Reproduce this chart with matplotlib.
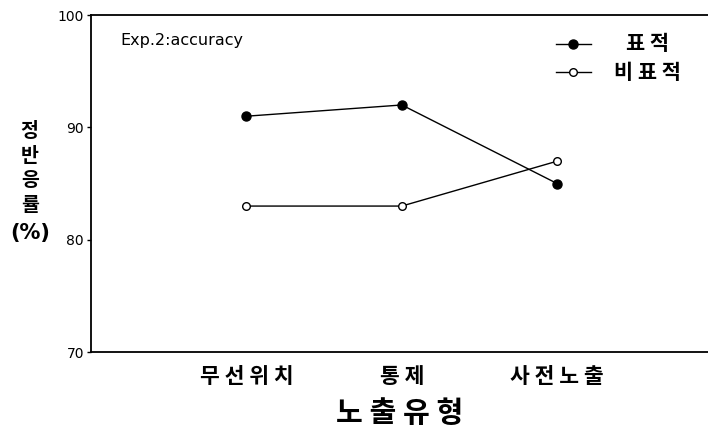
import matplotlib.pyplot as plt

plt.rcParams['font.family'] = ['Noto Sans CJK KR', 'DejaVu Sans']

# exposure conditions and accuracy (%) for the two item types
conditions = ["무 선 위 치", "통 제", "사 전 노 출"]
target_acc = [91, 92, 85]
nontarget_acc = [83, 83, 87]
series_labels = ["표 적", "비 표 적"]
y_ticks = [70, 80, 90, 100]

fig = plt.figure(figsize=(7.08, 4.32), dpi=100)
ax = fig.add_axes([0.1285, 0.185, 0.8715, 0.78])

xpos = [i + 1 for i in range(len(conditions))]

ax.plot(xpos, target_acc, color="black", lw=1.0, marker="o",
        markersize=6.5, markerfacecolor="black", markeredgecolor="black")
ax.plot(xpos, nontarget_acc, color="black", lw=1.0, marker="o",
        markersize=5.5, markerfacecolor="white", markeredgecolor="black",
        markeredgewidth=1.0)

ax.set_xlim(0, 3.97)
ax.set_ylim(70, 100)
ax.set_yticks(y_ticks)
ax.set_yticklabels([str(v) for v in y_ticks], fontsize=10, family="DejaVu Sans")
ax.set_xticks(xpos)
ax.set_xticklabels(conditions, fontsize=15.5, fontweight="bold")
ax.tick_params(axis="x", length=0, pad=10)
ax.tick_params(axis="y", length=3, width=1, pad=2)

for side in ["left", "top", "bottom"]:
    ax.spines[side].set_linewidth(1.3)
ax.spines["right"].set_visible(False)

ax.set_xlabel("노 출 유 형", fontsize=21, fontweight="bold", labelpad=8)

ax.text(0.047, 0.925, "Exp.2:accuracy", transform=ax.transAxes,
        fontsize=11.5, family="DejaVu Sans", va="center")

# legend drawn by hand so the labels sit where they should
leg_y = [0.915, 0.83]
styles = [dict(markerfacecolor="black", markersize=6.5),
          dict(markerfacecolor="white", markersize=5.5)]
for y, lab, st in zip(leg_y, series_labels, styles):
    ax.plot([0.753, 0.81], [y, y], transform=ax.transAxes, color="black", lw=1.0)
    ax.plot([0.781], [y], transform=ax.transAxes, marker="o",
            markeredgecolor="black", **st)
    ax.text(0.902, y, lab, transform=ax.transAxes, fontsize=15,
            fontweight="bold", ha="center", va="center")

# stacked y-axis label
fig.text(0.042, 0.61, "정\n반\n응\n률", fontsize=14, fontweight="bold",
         ha="center", va="center", linespacing=1.38)
fig.text(0.042, 0.46, "(%)", fontsize=15, fontweight="bold",
         ha="center", va="center", family="DejaVu Sans")

fig.savefig("out.png", dpi=100)
